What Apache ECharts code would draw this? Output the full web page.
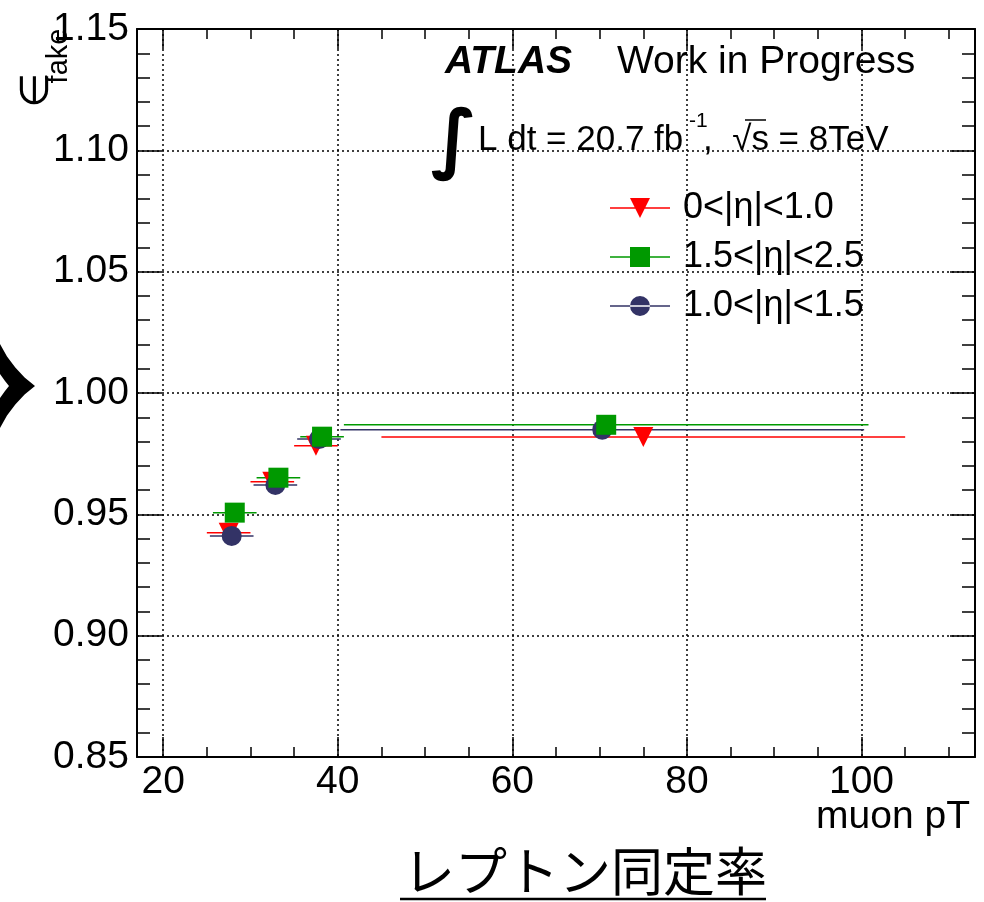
<!DOCTYPE html>
<html>
<head>
<meta charset="utf-8">
<script src="https://cdn.jsdelivr.net/npm/echarts@6/dist/echarts.min.js"></script>
<style>
html, body { margin: 0; padding: 0; background: #fff; }
#chart { width: 984px; height: 902px; }
</style>
</head>
<body>
<div id="chart"></div>
<script>
// Fake-lepton identification efficiency vs muon pT, three |eta| regions.

// Axis ranges and tick values
const X_RANGE = [17, 113];
const Y_RANGE = [0.85, 1.15];
const xMajorTicks = [20, 40, 60, 80, 100];
const xMinorTicks = [25, 30, 35, 45, 50, 55, 65, 70, 75, 85, 90, 95, 105, 110];

// Series names
const nameCentral = '0<|η|<1.0';
const nameForward = '1.5<|η|<2.5';
const nameTransit = '1.0<|η|<1.5';

// 0<|eta|<1.0
const centralPt   = [27.5, 32.5, 37.5, 75.0];
const centralLo   = [25.0, 30.0, 35.0, 45.0];
const centralHi   = [30.0, 35.0, 40.0, 105.0];
const centralEff  = [0.9424, 0.9634, 0.9783, 0.9819];

// 1.5<|eta|<2.5
const forwardPt   = [28.2, 33.2, 38.2, 70.75];
const forwardLo   = [25.7, 30.7, 35.7, 40.7];
const forwardHi   = [30.7, 35.7, 40.7, 100.8];
const forwardEff  = [0.9507, 0.9651, 0.9820, 0.9869];

// 1.0<|eta|<1.5
const transitPt   = [27.85, 32.85, 37.85, 70.3];
const transitLo   = [25.35, 30.35, 35.35, 40.3];
const transitHi   = [30.35, 35.35, 40.35, 100.3];
const transitEff  = [0.9411, 0.9621, 0.9810, 0.9849];

const RED = '#ff0000';
const GREEN = '#009900';
const NAVY = '#333366';
const FONT = 'Liberation Sans';

function binBars(name, lo, hi, eff, color) {
  return {
    type: 'custom',
    name: name + ' bins',
    silent: true,
    data: eff.map((v, i) => [lo[i], hi[i], v]),
    encode: { x: [0, 1], y: 2 },
    renderItem(params, api) {
      const a = api.coord([api.value(0), api.value(2)]);
      const b = api.coord([api.value(1), api.value(2)]);
      return {
        type: 'line',
        shape: { x1: a[0], y1: a[1], x2: b[0], y2: b[1] },
        style: { stroke: color, lineWidth: 1.5 }
      };
    }
  };
}

function markers(name, pt, eff, symbol, color, extra) {
  return Object.assign({
    type: 'scatter',
    name: name,
    symbol: symbol,
    symbolSize: 20,
    itemStyle: { color: color, opacity: 1 },
    emphasis: { disabled: true },
    data: pt.map((x, i) => [x, eff[i]])
  }, extra || {});
}

const frameLine = { show: true, lineStyle: { color: '#000', width: 2 } };
const gridDots = { show: true, lineStyle: { color: '#000', width: 1.5, type: [2, 3] } };

function xAxisDef(position, ticks, len, withLine, withLabels, withSplit) {
  return {
    type: 'value', position: position, min: X_RANGE[0], max: X_RANGE[1],
    axisLine: withLine ? frameLine : { show: false },
    axisTick: { show: true, inside: true, length: len, customValues: ticks,
                lineStyle: { color: '#000', width: 1.5 } },
    axisLabel: withLabels ? {
      show: true, customValues: ticks, margin: 6,
      fontFamily: FONT, fontSize: 39, color: '#000'
    } : { show: false },
    splitLine: withSplit ? Object.assign({ customValues: ticks }, gridDots) : { show: false },
    minorTick: { show: false }
  };
}

function yAxisDef(position, withLabels, withSplit) {
  return {
    type: 'value', position: position, min: Y_RANGE[0], max: Y_RANGE[1], interval: 0.05,
    axisLine: frameLine,
    axisTick: { show: true, inside: true, length: 25, lineStyle: { color: '#000', width: 1.5 } },
    minorTick: { show: true, splitNumber: 5, length: 13, lineStyle: { color: '#000', width: 1.5 } },
    axisLabel: withLabels ? {
      show: true, margin: 8, fontFamily: FONT, fontSize: 39, color: '#000',
      formatter: v => v.toFixed(2)
    } : { show: false },
    splitLine: withSplit ? gridDots : { show: false }
  };
}

function txt(x, y, text, font, align, extra) {
  return Object.assign({
    type: 'text', x: x, y: y,
    style: { text: text, font: font, fill: '#000',
             align: align, verticalAlign: 'middle', textAlign: align, textVerticalAlign: 'middle' }
  }, extra || {});
}

const chart = echarts.init(document.getElementById('chart'), null, { renderer: 'canvas' });

chart.setOption({
  animation: false,
  backgroundColor: '#fff',
  grid: { left: 137, top: 29, right: 9, bottom: 145, containLabel: false, outerBoundsMode: 'none' },
  xAxis: [
    xAxisDef('bottom', xMajorTicks, 20, true, true, true),
    xAxisDef('bottom', xMinorTicks, 10, false, false, false),
    xAxisDef('top', xMajorTicks, 20, true, false, false),
    xAxisDef('top', xMinorTicks, 10, false, false, false)
  ],
  yAxis: [
    yAxisDef('left', true, true),
    yAxisDef('right', false, false)
  ],
  legend: {
    orient: 'vertical', left: 605, top: 185,
    itemWidth: 60, itemHeight: 20, itemGap: 13,
    selectedMode: false,
    textStyle: { fontFamily: FONT, fontSize: 36, color: '#000', padding: [0, 0, 0, 8] },
    data: [
      { name: nameCentral, icon: 'path://M0,9.3h60v1.4h-60z M20,0h20l-10,20z' },
      { name: nameForward, icon: 'path://M0,9.3h60v1.4h-60z M20,0h20v20h-20z' },
      { name: nameTransit, icon: 'path://M0,9.3h60v1.4h-60z M20,10a10,10 0 1,0 20,0a10,10 0 1,0 -20,0z' }
    ]
  },
  series: [
    binBars(nameCentral, centralLo, centralHi, centralEff, RED),
    markers(nameCentral, centralPt, centralEff, 'triangle', RED, { symbolRotate: 180 }),
    binBars(nameTransit, transitLo, transitHi, transitEff, NAVY),
    markers(nameTransit, transitPt, transitEff, 'circle', NAVY),
    binBars(nameForward, forwardLo, forwardHi, forwardEff, GREEN),
    markers(nameForward, forwardPt, forwardEff, 'rect', GREEN)
  ],
  graphic: [
    // y-axis title
    txt(38, 90, '∈', '40px "DejaVu Sans"', 'center', { rotation: Math.PI / 2 }),
    txt(59, 56, 'fake', '29px "Liberation Sans"', 'center', { rotation: Math.PI / 2 }),
    // x-axis title
    txt(970, 817, 'muon pT', '39px "Liberation Sans"', 'right'),
    // experiment label
    txt(445, 62, 'ATLAS', 'italic bold 39px "Liberation Sans"', 'left'),
    txt(617, 62, 'Work in Progress', '39px "Liberation Sans"', 'left'),
    // luminosity and energy
    txt(454, 144, '∫', 'bold 76px "DejaVu Sans"', 'center'),
    txt(478, 140, 'L dt = 20.7 fb', '35px "Liberation Sans"', 'left'),
    txt(689, 121, '-1', '21px "Liberation Sans"', 'left'),
    txt(703, 140, ',  √s = 8TeV', '35px "Liberation Sans"', 'left'),
    { type: 'line', shape: { x1: 745, y1: 120, x2: 766, y2: 120 }, style: { stroke: '#000', lineWidth: 1.5 } },
    // ornament at the left edge
    { type: 'polygon',
      shape: { points: [[0, 344], [7, 356.4], [15.3, 367.5], [24.6, 377.4], [35, 386],
                        [24.6, 394.6], [15.3, 404.5], [7, 415.6], [0, 428]] },
      style: { fill: '#000' } },
    { type: 'polygon',
      shape: { points: [[0, 374], [5, 381], [9, 386], [5, 391], [0, 398]] },
      style: { fill: '#fff' } },
    // page heading
    txt(585, 871, 'レプトン同定率', '52px "Noto Sans CJK JP"', 'center'),
    { type: 'line', shape: { x1: 400, y1: 899, x2: 766, y2: 899 }, style: { stroke: '#000', lineWidth: 2.5 } }
  ]
});
</script>
</body>
</html>
